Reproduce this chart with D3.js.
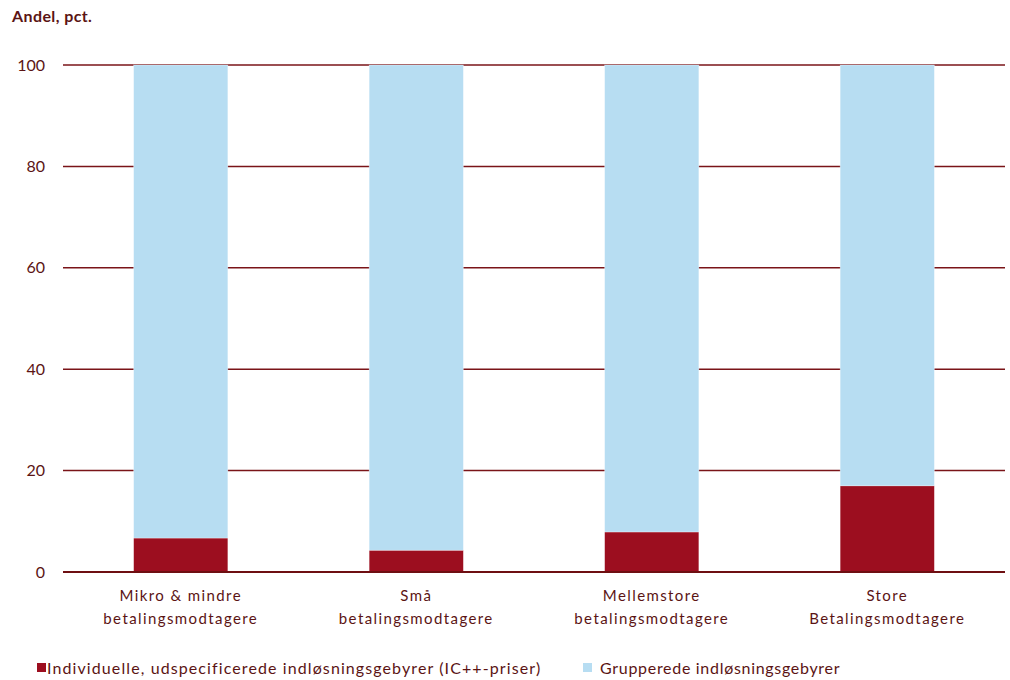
<!DOCTYPE html>
<html>
<head>
<meta charset="utf-8">
<script src="https://cdn.jsdelivr.net/npm/d3@7"></script>
<style>
  body { margin: 0; background: #fff; }
  svg { display: block; font-family: Lato, "Open Sans", sans-serif; }
</style>
</head>
<body>
<svg id="chart" width="1010" height="680"></svg>
<script>
// Category labels (two lines each)
const categories = [
  ["Mikro & mindre", "betalingsmodtagere"],
  ["Små", "betalingsmodtagere"],
  ["Mellemstore", "betalingsmodtagere"],
  ["Store", "Betalingsmodtagere"]
];
// Share with individual, itemised fees (IC++)
const individuelle = [6.7, 4.3, 7.9, 17.0];
// Share with grouped (blended) fees
const grupperede = individuelle.map(v => 100 - v);
const yTicks = [0, 20, 40, 60, 80, 100];
const seriesNames = [
  "Individuelle, udspecificerede indløsningsgebyrer (IC++-priser)",
  "Grupperede indløsningsgebyrer"
];

const colors = ["#9c0e1f", "#b7ddf2"];
const gridColor = "#7a1418";
const textColor = "#5b1414";

const svg = d3.select("#chart");
const margin = { left: 63, right: 5, top: 65, bottom: 108 };
const W = 1010, H = 680;

const keys = categories.map(c => c.join(" "));
const x = d3.scaleBand().domain(keys)
  .range([margin.left, W - margin.right])
  .paddingInner(0.6).paddingOuter(0.3);
const y = d3.scaleLinear().domain([0, 100]).range([H - margin.bottom, margin.top]);

// Title
svg.append("text").attr("x", 12).attr("y", 22)
  .attr("font-size", 16).attr("font-weight", "bold").attr("fill", textColor)
  .attr("letter-spacing", 0.4)
  .text("Andel, pct.");

// Gridlines
svg.append("g").selectAll("line").data(yTicks).join("line")
  .attr("x1", margin.left).attr("x2", W - margin.right)
  .attr("y1", d => y(d)).attr("y2", d => y(d))
  .attr("stroke", gridColor).attr("stroke-width", d => d === 0 ? 2 : 1.5);

// Y tick labels
svg.append("g").selectAll("text").data(yTicks).join("text")
  .attr("x", 45).attr("y", d => y(d)).attr("dy", "0.35em")
  .attr("text-anchor", "end").attr("font-size", 16).attr("fill", textColor)
  .text(d => d);

// Stacked bars
const rows = keys.map((k, i) => ({ key: k, ind: individuelle[i], grp: grupperede[i] }));
const stack = d3.stack().keys(["ind", "grp"])(rows);
svg.append("g").selectAll("g").data(stack).join("g")
  .attr("fill", (d, i) => colors[i])
  .selectAll("rect").data(d => d).join("rect")
  .attr("x", d => x(d.data.key))
  .attr("width", x.bandwidth())
  .attr("y", d => y(d[1]))
  .attr("height", d => y(d[0]) - y(d[1]))
  .attr("stroke", "#ffffff").attr("stroke-opacity", 0.5).attr("stroke-width", 0.6);

// Baseline redrawn over the bars
svg.append("line")
  .attr("x1", margin.left).attr("x2", W - margin.right)
  .attr("y1", y(0)).attr("y2", y(0))
  .attr("stroke", "#6e0f12").attr("stroke-width", 2);

// Category labels
const cat = svg.append("g").selectAll("text").data(categories).join("text")
  .attr("text-anchor", "middle").attr("font-size", 15).attr("fill", textColor)
  .attr("letter-spacing", 1.4)
  .attr("x", (d, i) => x(keys[i]) + x.bandwidth() / 2)
  .attr("y", 601);
cat.selectAll("tspan").data(d => d).join("tspan")
  .attr("x", function () { return d3.select(this.parentNode).attr("x"); })
  .attr("dy", (d, i) => i === 0 ? 0 : 23)
  .text(d => d);

// Legend
const legX = [37, 583];
const leg = svg.append("g").selectAll("g").data(seriesNames).join("g")
  .attr("transform", (d, i) => `translate(${legX[i]},668)`);
leg.append("rect").attr("x", 0).attr("y", -5).attr("width", 9).attr("height", 9)
  .attr("fill", (d, i) => colors[i]);
leg.append("text").attr("x", (d, i) => i === 0 ? 10 : 17).attr("dy", "0.35em")
  .attr("font-size", 16).attr("fill", textColor)
  .attr("letter-spacing", (d, i) => i === 0 ? 1.1 : 0.7)
  .text(d => d);
</script>
</body>
</html>
